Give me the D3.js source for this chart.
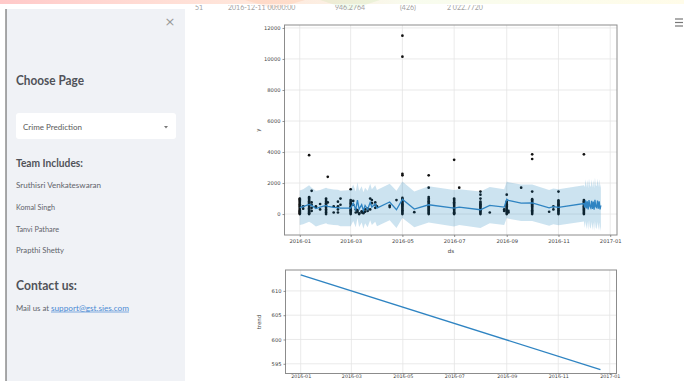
<!DOCTYPE html>
<html><head><meta charset="utf-8">
<script src="https://cdn.jsdelivr.net/npm/d3@7"></script>
<style>
html,body{margin:0;padding:0;background:#fff;width:684px;height:381px;overflow:hidden}
svg{display:block}
</style></head>
<body>
<svg id="c" width="684" height="381"></svg>
<script>
// ---------- DATA ----------
const pageTitle = "Choose Page";
const selectedPage = "Crime Prediction";
const teamTitle = "Team Includes:";
const teamMembers = ["Sruthisri Venkateswaran","Komal Singh","Tanvi Pathare","Prapthi Shetty"];
const contactTitle = "Contact us:";
const contactPrefix = "Mail us at ";
const contactEmail = "support@gst.sies.com";
const tableRowTexts = ["51","2016-12-11 00:00:00","946.2764","(426)","2 022.7720"];

const fcDates = ["2016-01-01","2016-01-05","2016-01-12","2016-01-15","2016-01-20","2016-01-25","2016-02-01","2016-02-03","2016-02-10","2016-02-15","2016-02-18",
"2016-03-01","2016-03-04","2016-03-07","2016-03-09","2016-03-11","2016-03-14","2016-03-16","2016-03-18","2016-03-21","2016-03-24","2016-03-26","2016-03-30",
"2016-04-01","2016-04-16","2016-04-24","2016-05-01","2016-05-15","2016-06-01","2016-07-01","2016-07-07","2016-08-01","2016-08-12","2016-08-29",
"2016-09-01","2016-09-03","2016-09-18","2016-10-01","2016-10-21","2016-10-26","2016-11-01","2016-12-01",
"2016-12-02","2016-12-03","2016-12-04","2016-12-05","2016-12-06","2016-12-07","2016-12-08","2016-12-09","2016-12-10","2016-12-11",
"2016-12-12","2016-12-13","2016-12-14","2016-12-15","2016-12-16","2016-12-17","2016-12-18","2016-12-19","2016-12-20","2016-12-21"];
const yhat = [420,480,620,560,350,450,560,500,430,420,380,
380,700,300,900,320,600,220,550,300,750,450,650,
380,780,280,950,320,600,380,450,280,560,450,
950,880,700,720,400,480,430,680,
420,880,360,820,300,900,500,400,860,330,800,280,920,480,420,870,340,820,300,560];
const yhatUpper = [1520,1600,1850,1700,1500,1550,1700,1650,1580,1560,1500,
1550,1900,1450,2050,1500,1800,1400,1700,1500,1950,1600,1850,
1550,1950,1500,2100,1450,1800,1550,1600,1450,1750,1600,
2100,2050,1900,1900,1550,1650,1600,1850,
1750,2250,1700,2200,1650,2300,1850,1750,2250,1700,2200,1650,2350,1850,1800,2300,1750,2250,1700,1950];
const yhatLower = [-700,-650,-500,-600,-800,-700,-600,-650,-700,-720,-780,
-780,-450,-850,-250,-830,-550,-950,-600,-850,-400,-700,-500,
-780,-400,-900,-250,-850,-550,-800,-700,-900,-600,-700,
-250,-300,-450,-450,-750,-650,-720,-480,
-900,-450,-1000,-500,-1050,-400,-850,-950,-500,-1050,-550,-1100,-450,-900,-950,-500,-1050,-550,-1100,-800];

const obsDates = ["2016-01-01","2016-01-05","2016-01-12","2016-01-15","2016-01-20","2016-01-25","2016-02-01","2016-02-03","2016-02-10","2016-02-15","2016-02-18",
"2016-03-01","2016-03-04","2016-03-07","2016-03-09","2016-03-11","2016-03-14","2016-03-16","2016-03-18","2016-03-21","2016-03-24","2016-03-26","2016-03-30",
"2016-04-01","2016-04-16","2016-04-24","2016-05-01","2016-05-15","2016-06-01","2016-07-01","2016-07-07","2016-08-01","2016-08-12","2016-08-29",
"2016-09-01","2016-09-03","2016-09-18","2016-10-01","2016-10-21","2016-10-26","2016-11-01","2016-12-01"];
const obsValues = [
[0,60,120,180,250,320,400,480,560,640,720,800,880,960,1000],
[350,500],
[0,40,90,150,220,300,380,450,530,600,680,750,830,900,980,1050,1100,3800],
[200,400,600,750,1500],
[450,500],
[300,650],
[0,100,200,300,400,500,600,700,800,900,1000],
[750,2400],
[100,500],
[100,300,500,800],
[600,1000],
[0,80,160,240,320,400,500,600,700,800,900,1600],
[600,850],
[100,300],
[150,250],
[0,50],
[100,180],
[60,120],
[150,300],
[200,350],
[300,1000],
[700,900],
[400,600,750],
[500],
[450,550],
[900],
[0,80,160,240,320,400,480,560,640,720,800,880,960,1040,2500,2600,10150,11500],
[120],
[0,70,140,210,280,350,420,500,580,660,740,820,900,1000,1100,1700,2500],
[0,60,120,200,280,360,440,520,600,680,760,840,920,1000,3500],
[1700],
[0,80,160,240,320,400,480,560,640,720,800,1000,1250,1450],
[100],
[200,300],
[0,80,160,240,320,400,480,560,640,720,800,1250],
[100,200],
[1700],
[0,80,160,240,320,400,480,560,640,720,800,880,960,1450,3550,3850],
[150],
[300,500],
[0,80,160,240,320,400,480,560,640,720,800,880,1450],
[0,70,140,210,280,350,420,500,580,660,740,820,900,3850]
];

const trendDates = ["2016-01-01","2016-12-21"];
const trendValues = [613.3, 593.8];

const xTickLabels = ["2016-01","2016-03","2016-05","2016-07","2016-09","2016-11","2017-01"];
const yTicksTop = [0,2000,4000,6000,8000,10000,12000];
const yTicksTrend = [595,600,605,610];

// ---------- DRAW ----------
const svg = d3.select("#c");
const parse = d3.utcParse("%Y-%m-%d");
const parseM = d3.utcParse("%Y-%m");
const BLUE = "#0072B2";
const LINE = "#2f84c2";

// top decoration
const defs = svg.append("defs");
const g1 = defs.append("linearGradient").attr("id","deco").attr("x1","0").attr("x2","1");
g1.append("stop").attr("offset","0").attr("stop-color","#ff4b4b").attr("stop-opacity",0.3);
g1.append("stop").attr("offset","0.35").attr("stop-color","#ff8c5a").attr("stop-opacity",0.22);
g1.append("stop").attr("offset","0.6").attr("stop-color","#e8f5c8").attr("stop-opacity",0.3);
g1.append("stop").attr("offset","1").attr("stop-color","#fff6c0").attr("stop-opacity",0.35);
svg.append("rect").attr("x",0).attr("y",0).attr("width",684).attr("height",4).attr("fill","url(#deco)");
svg.append("path").attr("d","M245,0 L305,0 L275,9 Z").attr("fill","#ff7a3c").attr("opacity",0.12);
svg.append("path").attr("d","M320,0 L380,0 L350,10 Z").attr("fill","#8ed36b").attr("opacity",0.12);

// faint clipped table row text
defs.append("clipPath").attr("id","rowclip").append("rect").attr("x",186).attr("y",5).attr("width",498).attr("height",6);
const rowX = [195,228,335,400,447];
const rowG = svg.append("g").attr("clip-path","url(#rowclip)");
tableRowTexts.forEach((t,i)=>{
  rowG.append("text").attr("x",rowX[i]).attr("y",9.5).text(t)
    .attr("font-family","Lato, sans-serif").attr("font-size",7).attr("fill","#a0a0a0");
});

// sidebar
svg.append("rect").attr("x",6).attr("y",9).attr("width",179).attr("height",372).attr("fill","#f0f2f6");
svg.append("line").attr("x1",6).attr("x2",6).attr("y1",9).attr("y2",381).attr("stroke","#555").attr("stroke-width",1);
svg.append("text").attr("x",170).attr("y",26).text("×").attr("font-family","DejaVu Sans, sans-serif")
  .attr("font-size",13).attr("fill","#9a9a9a").attr("text-anchor","middle");

const sf = "Lato, 'Source Sans Pro', sans-serif";
svg.append("text").attr("x",16).attr("y",85).text(pageTitle).attr("font-family",sf)
  .attr("font-size",13).attr("font-weight",700).attr("fill","#505259").attr("textLength",68).attr("lengthAdjust","spacingAndGlyphs");
svg.append("rect").attr("x",16).attr("y",113).attr("width",160).attr("height",26).attr("rx",3).attr("fill","#fff");
svg.append("text").attr("x",23).attr("y",129.5).text(selectedPage).attr("font-family",sf)
  .attr("font-size",8.2).attr("fill","#5a5a5a").attr("textLength",59).attr("lengthAdjust","spacingAndGlyphs");
svg.append("path").attr("d","M164,126 L168,126 L166,128.5 Z").attr("fill","#777");
svg.append("text").attr("x",16).attr("y",167).text(teamTitle).attr("font-family",sf)
  .attr("font-size",11).attr("font-weight",700).attr("fill","#505259").attr("textLength",67).attr("lengthAdjust","spacingAndGlyphs");
const memberY = [188,209.5,231.5,253];
const memberW = [85,39,43,48];
teamMembers.forEach((m,i)=>{
  svg.append("text").attr("x",16).attr("y",memberY[i]).text(m).attr("font-family",sf)
    .attr("font-size",8.4).attr("fill","#62646b").attr("textLength",memberW[i]).attr("lengthAdjust","spacingAndGlyphs");
});
svg.append("text").attr("x",16).attr("y",290).text(contactTitle).attr("font-family",sf)
  .attr("font-size",13).attr("font-weight",700).attr("fill","#505259").attr("textLength",61).attr("lengthAdjust","spacingAndGlyphs");
svg.append("text").attr("x",16).attr("y",310.5).text(contactPrefix).attr("font-family",sf)
  .attr("font-size",8.4).attr("fill","#62646b").attr("textLength",33).attr("lengthAdjust","spacingAndGlyphs");
svg.append("text").attr("x",51).attr("y",310.5).text(contactEmail).attr("font-family",sf)
  .attr("font-size",8.4).attr("fill","#4a8ad4").attr("textLength",78).attr("lengthAdjust","spacingAndGlyphs");
svg.append("line").attr("x1",51).attr("x2",129).attr("y1",312).attr("y2",312).attr("stroke","#4a8ad4").attr("stroke-width",0.7);

// hamburger
[19,22.5,26].forEach(y=>svg.append("line").attr("x1",675).attr("x2",683).attr("y1",y).attr("y2",y).attr("stroke","#777").attr("stroke-width",1.2));

// ---------- chart helpers ----------
const tickFont = "DejaVu Sans, sans-serif";
function frame(g, x0,x1,y0,y1){
  g.append("rect").attr("x",x0).attr("y",y0).attr("width",x1-x0).attr("height",y1-y0)
    .attr("fill","none").attr("stroke","#8c8c8c").attr("stroke-width",1);
}
function styleAxis(a){
  a.select(".domain").remove();
  a.selectAll(".tick line").attr("stroke","#666").attr("stroke-width",0.7);
  a.selectAll(".tick text").attr("font-family",tickFont).attr("font-size",5.2).attr("fill","#444");
}
const xDomain = [parse("2015-12-14"), parse("2017-01-09")];
const xTickDates = xTickLabels.map(parseM);

// ---------- top plot ----------
const T = {l:284.5, r:617, t:25, b:235};
const x1 = d3.scaleUtc().domain(xDomain).range([T.l,T.r]);
const y1 = d3.scaleLinear().domain([-1350,12190]).range([T.b,T.t]);
const gt = svg.append("g");
gt.append("g").selectAll("line").data(xTickDates).join("line")
  .attr("x1",d=>x1(d)).attr("x2",d=>x1(d)).attr("y1",T.t).attr("y2",T.b).attr("stroke","#e4e4e4").attr("stroke-width",0.8);
gt.append("g").selectAll("line").data(yTicksTop).join("line")
  .attr("x1",T.l).attr("x2",T.r).attr("y1",d=>y1(d)).attr("y2",d=>y1(d)).attr("stroke","#e4e4e4").attr("stroke-width",0.8);

const pts = [];
obsDates.forEach((d,i)=>obsValues[i].forEach(v=>pts.push({d:parse(d),v})));
gt.append("g").selectAll("circle").data(pts).join("circle")
  .attr("cx",p=>x1(p.d)).attr("cy",p=>y1(p.v)).attr("r",1.35).attr("fill","#111");

const fc = fcDates.map((d,i)=>({d:parse(d),y:yhat[i],lo:yhatLower[i],hi:yhatUpper[i]}));
gt.append("path").datum(fc).attr("d",d3.area().x(p=>x1(p.d)).y0(p=>y1(p.lo)).y1(p=>y1(p.hi)))
  .attr("fill",BLUE).attr("fill-opacity",0.2);
gt.append("path").datum(fc).attr("d",d3.line().x(p=>x1(p.d)).y(p=>y1(p.y)))
  .attr("fill","none").attr("stroke",LINE).attr("stroke-width",1.3);

frame(gt,T.l,T.r,T.t,T.b);
const axL = gt.append("g").attr("transform",`translate(${T.l},0)`)
  .call(d3.axisLeft(y1).tickValues(yTicksTop).tickSize(2).tickPadding(2).tickFormat(d3.format("d")));
styleAxis(axL);
const axB = gt.append("g").attr("transform",`translate(0,${T.b})`)
  .call(d3.axisBottom(x1).tickValues(xTickDates).tickSize(2).tickPadding(2).tickFormat(d3.utcFormat("%Y-%m")));
styleAxis(axB);
gt.append("text").attr("x",451).attr("y",253).text("ds").attr("font-family",tickFont).attr("font-size",5.5).attr("fill","#444").attr("text-anchor","middle");
gt.append("text").attr("transform","translate(260,130) rotate(-90)").text("y").attr("font-family",tickFont).attr("font-size",5.5).attr("fill","#444").attr("text-anchor","middle");

// ---------- trend plot ----------
const B = {l:285.5, r:616.5, t:270, b:373.5};
const x2 = d3.scaleUtc().domain(xDomain).range([B.l,B.r]);
const y2 = d3.scaleLinear().domain([593.0,614.3]).range([B.b,B.t]);
const gb = svg.append("g");
gb.append("g").selectAll("line").data(xTickDates).join("line")
  .attr("x1",d=>x2(d)).attr("x2",d=>x2(d)).attr("y1",B.t).attr("y2",B.b).attr("stroke","#e4e4e4").attr("stroke-width",0.8);
gb.append("g").selectAll("line").data(yTicksTrend).join("line")
  .attr("x1",B.l).attr("x2",B.r).attr("y1",d=>y2(d)).attr("y2",d=>y2(d)).attr("stroke","#e4e4e4").attr("stroke-width",0.8);
const tr = trendDates.map((d,i)=>({d:parse(d),v:trendValues[i]}));
gb.append("path").datum(tr).attr("d",d3.line().x(p=>x2(p.d)).y(p=>y2(p.v)))
  .attr("fill","none").attr("stroke",LINE).attr("stroke-width",1.4);
frame(gb,B.l,B.r,B.t,B.b);
const axL2 = gb.append("g").attr("transform",`translate(${B.l},0)`)
  .call(d3.axisLeft(y2).tickValues(yTicksTrend).tickSize(2).tickPadding(2).tickFormat(d3.format("d")));
styleAxis(axL2);
const axB2 = gb.append("g").attr("transform",`translate(0,${B.b})`)
  .call(d3.axisBottom(x2).tickValues(xTickDates).tickSize(1.2).tickPadding(0.3).tickFormat(d3.utcFormat("%Y-%m")));
styleAxis(axB2);
axB2.selectAll(".tick text").attr("font-size",4.8);
gb.append("text").attr("transform","translate(261,322) rotate(-90)").text("trend").attr("font-family",tickFont).attr("font-size",5.5).attr("fill","#444").attr("text-anchor","middle");
</script>
</body></html>
